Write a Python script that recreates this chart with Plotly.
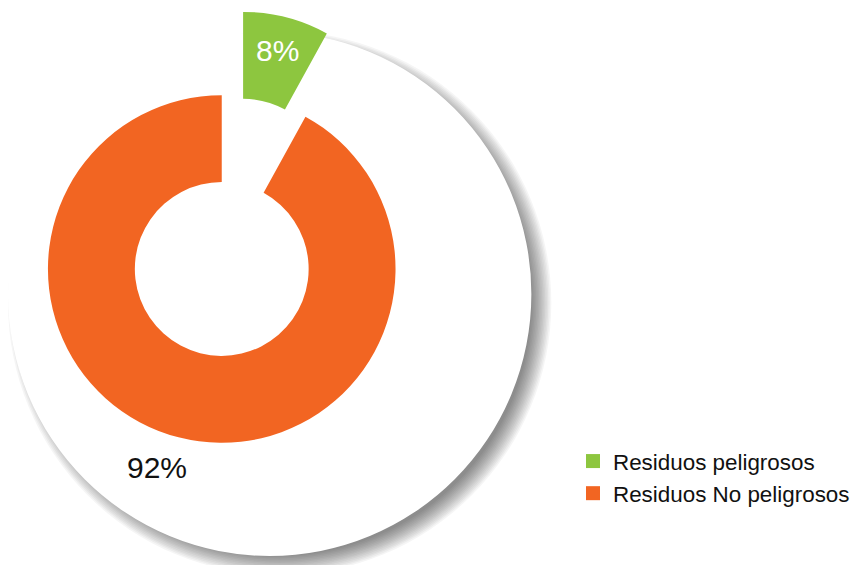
import math
import plotly.graph_objects as go

W, H = 855, 565

labels = ["Residuos peligrosos", "Residuos No peligrosos"]
values = [8, 92]
colors = ["#8DC63F", "#F26522"]
text_labels = [f"{v}%" for v in values]

FONT = "Liberation Sans, Arial, sans-serif"


def px_x(x):
    return x / W


def px_y(y):
    return 1 - y / H


# donut geometry (pixels)
cx, cy, r = 222, 269, 174
pull_px = 86
mid = math.radians(values[0] / sum(values) * 360 / 2)
gx, gy = cx + pull_px * math.sin(mid), cy - pull_px * math.cos(mid)


def dom(x, y):
    return dict(x=[px_x(x - r), px_x(x + r)], y=[px_y(y + r), px_y(y - r)])


fig = go.Figure()

# orange ring (green slice transparent)
fig.add_trace(go.Pie(
    labels=labels, values=values, hole=0.5, sort=False, direction="clockwise",
    rotation=0, domain=dom(cx, cy),
    marker=dict(colors=["rgba(0,0,0,0)", colors[1]], line=dict(width=0)),
    textinfo="none", showlegend=False, hoverinfo="skip",
))

# pulled out green slice
fig.add_trace(go.Pie(
    labels=labels, values=values, hole=0.5, sort=False, direction="clockwise",
    rotation=0, domain=dom(gx, gy),
    marker=dict(colors=[colors[0], "rgba(0,0,0,0)"], line=dict(width=0)),
    text=[text_labels[0], ""], textinfo="text", textposition="inside",
    insidetextorientation="horizontal",
    insidetextfont=dict(size=30, color="white", family=FONT),
    showlegend=False, hoverinfo="skip",
))

# legend entries
for lab, col in zip(labels, colors):
    fig.add_trace(go.Scatter(
        x=[None], y=[None], mode="markers", name=lab,
        marker=dict(symbol="square", size=14, color=col),
    ))

# big white disc with soft shadow (bottom right)
bx, by, br = 270, 294, 262
shapes = []
for k in range(14):
    rr = br + 10 - k * 1.5
    sx, sy = bx + 10, by + 9
    shapes.append(dict(
        type="circle", xref="paper", yref="paper", layer="below",
        x0=px_x(sx - rr), x1=px_x(sx + rr), y0=px_y(sy + rr), y1=px_y(sy - rr),
        fillcolor="rgba(0,0,0,0.04)", line=dict(width=0),
    ))
shapes.append(dict(
    type="circle", xref="paper", yref="paper", layer="below",
    x0=px_x(bx - br), x1=px_x(bx + br), y0=px_y(by + br), y1=px_y(by - br),
    fillcolor="white", line=dict(width=0),
))

fig.update_layout(
    width=W, height=H,
    margin=dict(l=0, r=0, t=0, b=0),
    paper_bgcolor="white", plot_bgcolor="white",
    xaxis=dict(visible=False), yaxis=dict(visible=False),
    shapes=shapes,
    uniformtext=dict(minsize=30, mode="show"),
    font=dict(family=FONT, color="#111111"),
    annotations=[dict(
        text=text_labels[1], xref="paper", yref="paper",
        x=px_x(157), y=px_y(467), xanchor="center", yanchor="middle",
        showarrow=False,
        font=dict(size=30, color="#111111", family=FONT),
    )],
    legend=dict(
        x=px_x(574), y=px_y(440), xanchor="left", yanchor="top",
        font=dict(size=22.4, family=FONT, color="#111111"),
        bgcolor="rgba(0,0,0,0)", itemclick=False, itemdoubleclick=False,
    ),
)

fig.write_html("out.html", config={"displayModeBar": False},
               post_script="document.body.style.margin='0';")
